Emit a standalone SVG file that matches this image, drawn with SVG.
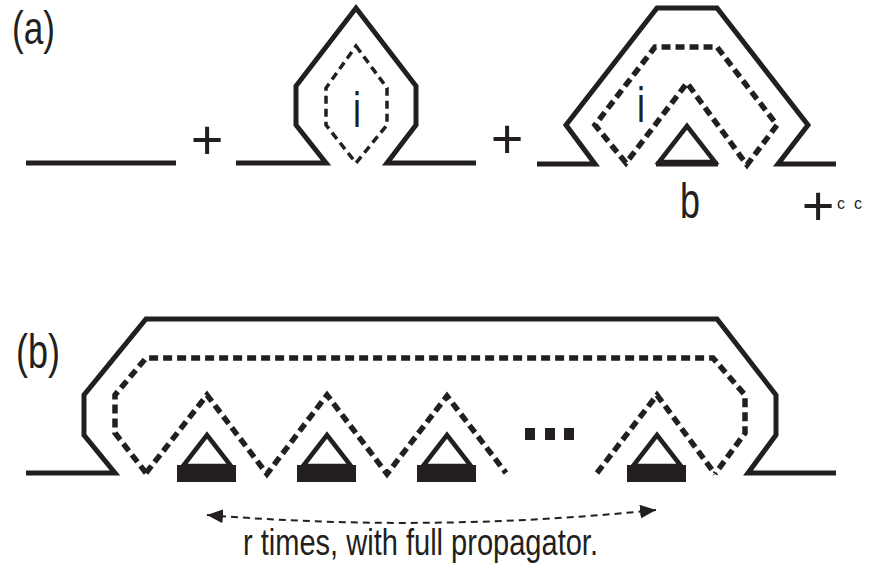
<svg xmlns="http://www.w3.org/2000/svg" width="873" height="583" viewBox="0 0 873 583">
<defs>
<style>
.solid{fill:none;stroke:#231f20;stroke-width:5;stroke-linejoin:miter;stroke-miterlimit:10}
.dash{fill:none;stroke:#231f20;stroke-width:5.5;stroke-dasharray:9 5}
.dashthin{fill:none;stroke:#231f20;stroke-width:3.5;stroke-dasharray:8 5}
.tri{fill:none;stroke:#231f20;stroke-width:4.5;stroke-linejoin:miter}
.bar{fill:#231f20}
.lbl{font-family:"Liberation Sans",Arial,sans-serif;fill:#231f20}
.arrow{fill:none;stroke:#231f20;stroke-width:2;stroke-dasharray:7 5}
</style>
<marker id="ah" markerUnits="userSpaceOnUse" markerWidth="17" markerHeight="15" refX="16" refY="7" orient="auto-start-reverse" viewBox="0 0 17 15">
<path d="M0,0 L16,7 L0,14 Z" fill="#231f20"/>
</marker>
<g id="tribar">
<polygon class="tri" points="0,0 -24,31 24,31"/>
<rect class="bar" x="-30" y="30" width="59" height="17"/>
</g>
</defs>
<rect width="873" height="583" fill="#ffffff"/>

<g id="label-a"><text class="lbl" x="12" y="44" font-size="47" textLength="43" lengthAdjust="spacingAndGlyphs">(a)</text></g>

<g id="a-term1"><path class="solid" d="M26,163 L176,163"/></g>
<g id="plus1"><text class="lbl" x="207" y="159" font-size="56" text-anchor="middle">+</text></g>

<g id="a-term2">
<path class="solid" d="M236,163 L326,163 L296,125 L296,86 L356,8 L416,86 L416,125 L387,163 L476,163"/>
<path class="dashthin" d="M356,46 L387,88 L387,125 L356,163 L326,125 L326,88 Z"/>
<text class="lbl" transform="translate(357,127) scale(0.72,1)" font-size="50" text-anchor="middle">i</text>
</g>
<g id="plus2"><text class="lbl" x="507" y="158" font-size="56" text-anchor="middle">+</text></g>

<g id="a-term3">
<path class="solid" d="M537,164 L595,164 L566,125 L657,8 L717,8 L808,125 L778,164 L836,164"/>
<path class="dash" d="M626,163 L595,125 L655,47 L717,47 L777,125 L747,165 L687,83 Z"/>
<polygon class="tri" points="687,126 659,162 715,162"/>
<path class="solid" d="M656,164 L718,164"/>
<text class="lbl" transform="translate(641,122) scale(0.72,1)" font-size="50" text-anchor="middle">i</text>
<text class="lbl" transform="translate(690,218) scale(0.72,1)" font-size="50" text-anchor="middle">b</text>
</g>
<g id="plus3"><text class="lbl" x="818" y="225" font-size="56" text-anchor="middle">+</text>
<text class="lbl" x="841" y="209" font-size="16" text-anchor="middle">c</text>
<text class="lbl" x="858" y="209" font-size="16" text-anchor="middle">c</text></g>

<g id="label-b"><text class="lbl" x="16" y="368" font-size="48" textLength="44" lengthAdjust="spacingAndGlyphs">(b)</text></g>

<g id="b-diagram">
<path class="solid" d="M26,473 L115,473 L84,435 L84,395 L146,319 L717,319 L776,395 L776,435 L748,473 L836,473"/>
<path class="dash" d="M146,473 L115,433 L115,395 L146,358 L713,358 L745,395 L745,433 L715,474"/>
<path class="dash" d="M146,473 L207,395 L267,474 L327,395 L387,474 L447,396 L506,473"/>
<path class="dash" d="M597,473 L657,395 L715,474"/>
<use href="#tribar" x="207" y="435"/>
<use href="#tribar" x="327" y="435"/>
<use href="#tribar" x="447" y="435"/>
<use href="#tribar" x="657" y="435"/>
<rect class="bar" x="525" y="428" width="10" height="12"/>
<rect class="bar" x="545" y="428" width="10" height="12"/>
<rect class="bar" x="564" y="428" width="10" height="12"/>
</g>

<g id="connectors">
<path class="arrow" d="M207,515 Q431,533 656,510" marker-start="url(#ah)" marker-end="url(#ah)"/>
</g>
<g id="caption"><text class="lbl" x="243" y="555" font-size="36" textLength="355" lengthAdjust="spacingAndGlyphs">r times, with full propagator.</text></g>
</svg>
